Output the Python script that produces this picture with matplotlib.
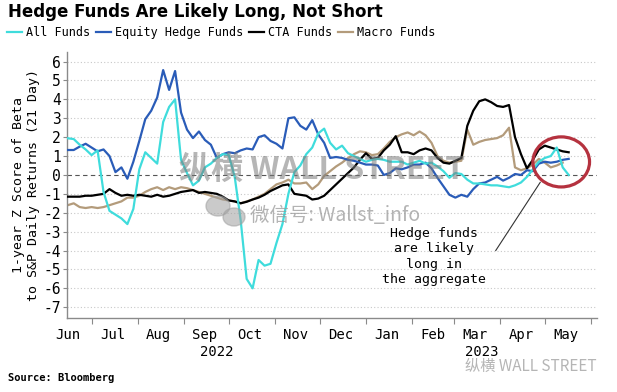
import numpy as np
import pandas as pd
import matplotlib
matplotlib.use("Agg")
import matplotlib.pyplot as plt
import matplotlib.dates as mdates
from matplotlib.patches import Ellipse
from matplotlib.ticker import FixedLocator, FixedFormatter, NullFormatter

# values, one every 4 days
dates = pd.date_range("2022-06-15", periods=85, freq="4D")

all_funds = [1.94, 1.9, 1.6, 1.35, 1.05, 1.3, -0.9, -1.9, -2.1, -2.3,
             -2.6, -1.8, 0.3, 1.2, 0.9, 0.6, 2.8, 3.6, 4.0, 0.8,
             0.1, -0.55, -0.3, 0.4, 0.6, 0.9, 1.1, 1.05, -0.1, -2.4,
             -5.5, -6.0, -4.5, -4.8, -4.7, -3.6, -2.6, -1.0, 0.15, 0.5,
             1.1, 1.45, 2.2, 2.45, 1.7, 1.35, 1.55, 1.15, 1.0, 0.85,
             0.7, 0.8, 0.85, 0.8, 0.7, 0.7, 0.7, 0.55, 0.65, 0.75,
             0.6, 0.65, 0.45, 0.2, -0.15, 0.1, 0.05, -0.25, -0.45, -0.45,
             -0.5, -0.55, -0.55, -0.6, -0.65, -0.55, -0.4, -0.1, 0.3, 0.7,
             0.9, 1.0, 1.45, 0.4, 0.0]

equity_hf = [1.32, 1.32, 1.5, 1.65, 1.45, 1.25, 1.35, 1.0, 0.15, 0.4,
             -0.2, 0.7, 1.8, 2.95, 3.4, 4.1, 5.55, 4.5, 5.5, 3.3,
             2.4, 1.95, 2.3, 1.85, 1.6, 0.9, 1.1, 1.2, 1.15, 1.3,
             1.4, 1.35, 2.0, 2.1, 1.8, 1.65, 1.4, 3.0, 3.05, 2.6,
             2.4, 2.9, 2.15, 1.7, 0.9, 0.95, 0.9, 0.8, 0.75, 0.65,
             0.55, 0.55, 0.5, 0.0, 0.1, 0.35, 0.3, 0.4, 0.55, 0.55,
             0.65, 0.35, -0.15, -0.6, -1.05, -1.2, -1.05, -1.15, -0.75, -0.45,
             -0.4, -0.25, -0.1, -0.3, -0.15, 0.05, 0.0, 0.25, 0.2, 0.6,
             0.7, 0.65, 0.7, 0.8, 0.85]

cta_funds = [-1.15, -1.15, -1.15, -1.1, -1.1, -1.05, -1.0, -0.75, -0.95, -1.1,
             -1.05, -1.1, -1.05, -1.1, -1.15, -1.05, -1.15, -1.1, -1.0, -0.9,
             -0.85, -0.8, -0.95, -0.9, -0.95, -1.0, -1.15, -1.35, -1.4, -1.5,
             -1.42, -1.3, -1.2, -1.05, -0.85, -0.7, -0.55, -0.5, -1.0, -1.05,
             -1.1, -1.3, -1.25, -1.1, -0.8, -0.5, -0.2, 0.1, 0.4, 0.8,
             1.15, 0.85, 0.9, 1.3, 1.6, 2.05, 1.2, 1.2, 1.1, 1.3,
             1.4, 1.3, 0.9, 0.65, 0.6, 0.75, 0.9, 2.6, 3.4, 3.9,
             4.0, 3.85, 3.65, 3.6, 3.7, 2.0, 1.1, 0.35, 0.8, 1.35,
             1.55, 1.45, 1.35, 1.25, 1.2]

macro_funds = [-1.6, -1.5, -1.7, -1.75, -1.7, -1.75, -1.7, -1.6, -1.5, -1.4,
               -1.2, -1.2, -1.1, -0.9, -0.75, -0.65, -0.8, -0.65, -0.75, -0.65,
               -0.7, -0.8, -0.9, -1.0, -1.1, -1.2, -1.3, -1.35, -1.4, -1.5,
               -1.4, -1.3, -1.15, -1.0, -0.75, -0.5, -0.4, -0.25, -0.45, -0.45,
               -0.4, -0.75, -0.5, -0.05, 0.2, 0.45, 0.65, 0.9, 1.1, 1.25,
               1.2, 1.05, 1.1, 1.4, 1.75, 2.0, 2.15, 2.25, 2.1, 2.3,
               2.1, 1.7, 1.0, 0.75, 0.65, 0.7, 0.75, 2.4, 1.6, 1.75,
               1.85, 1.9, 1.95, 2.1, 2.5, 0.4, 0.25, 0.35, 0.55, 0.85,
               0.65, 0.4, 0.5, 0.65, np.nan]

series_names = ["All Funds", "Equity Hedge Funds", "CTA Funds", "Macro Funds"]
series_colors = ["#3fdcdc", "#2a5cb8", "#000000", "#b39b7b"]
series_z = [5, 4, 3, 2]

month_labels = ["Jun", "Jul", "Aug", "Sep", "Oct", "Nov", "Dec",
                "Jan", "Feb", "Mar", "Apr", "May"]
year_labels = ["2022", "2023"]
y_ticks = list(range(-7, 7))

mono = "DejaVu Sans Mono"
cjk = ["Noto Sans CJK SC", "DejaVu Sans"]

fig = plt.figure(figsize=(6.17, 3.92), dpi=100)
ax = fig.add_axes([67 / 617, 1 - 318 / 392, 530 / 617, 265.5 / 392])

for vals, name, col, z in zip([all_funds, equity_hf, cta_funds, macro_funds],
                              series_names, series_colors, series_z):
    ax.plot(dates, vals, color=col, lw=1.6, label=name, zorder=z)

x0 = mdates.date2num(pd.Timestamp("2022-06-15")) - 0.5
x1 = mdates.date2num(pd.Timestamp("2023-06-05"))
ax.set_xlim(x0, x1)
ax.set_ylim(-7.57, 6.48)

# grid
for v in y_ticks:
    if v == 0:
        ax.axhline(0, color="#555555", lw=0.8, ls=(0, (4, 3)), zorder=1)
    else:
        ax.axhline(v, color="#c8c8c8", lw=0.8, ls=(0, (1, 2)), zorder=1)

for s in ["top", "right"]:
    ax.spines[s].set_visible(False)
for s in ["left", "bottom"]:
    ax.spines[s].set_color("#8a8a8a")
    ax.spines[s].set_linewidth(1)

ax.set_yticks(y_ticks)
ax.set_yticklabels([str(v) for v in y_ticks], fontfamily=mono, fontsize=10.5)
ax.tick_params(axis="y", length=3, color="#8a8a8a", pad=1.5)

# month boundaries as tick marks, labels at mid-month
ax.xaxis.set_major_locator(mdates.MonthLocator())
ax.xaxis.set_major_formatter(NullFormatter())
mid = pd.date_range("2022-06-01", periods=12, freq="MS") + pd.Timedelta(days=14)
ax.xaxis.set_minor_locator(FixedLocator(mdates.date2num(mid)))
ax.xaxis.set_minor_formatter(FixedFormatter(month_labels))
ax.tick_params(axis="x", which="major", length=4, color="#8a8a8a", direction="out")
ax.tick_params(axis="x", which="minor", length=0, pad=7, labelsize=10)
for lab in ax.xaxis.get_minorticklabels():
    lab.set_fontfamily(mono)

jan = mdates.date2num(pd.Timestamp("2023-01-01"))
for xc, yl in zip([(x0 + jan) / 2, (jan + x1) / 2], year_labels):
    ax.text(xc, -0.128, yl, transform=ax.get_xaxis_transform(), ha="center",
            va="center", fontfamily=mono, fontsize=10)

ax.set_ylabel("1-year Z Score of Beta\nto S&P Daily Returns (21 Day)",
              fontfamily=mono, fontsize=9.5, linespacing=1.2, labelpad=2)

# annotation
ax.text(pd.Timestamp("2023-02-16"), -2.75,
        "Hedge funds\nare likely\nlong in\nthe aggregate",
        ha="center", va="top", multialignment="center",
        fontfamily=mono, fontsize=9.5, linespacing=1.25, zorder=7)
ax.annotate("", xy=(pd.Timestamp("2023-04-29"), -0.26),
            xytext=(pd.Timestamp("2023-03-28"), -4.13),
            arrowprops=dict(arrowstyle="-", color="#333333", lw=0.8))
ax.add_patch(Ellipse((mdates.date2num(pd.Timestamp("2023-05-12")), 0.69),
                     38, 2.65, fill=False, edgecolor="#b5323f", lw=2.3, zorder=6))

# titles and legend
fig.text(8 / 617, 1 - 12 / 392, "Hedge Funds Are Likely Long, Not Short",
         fontsize=12, fontweight="bold", va="center", ha="left")
handles, labels = ax.get_legend_handles_labels()
fig.legend(handles, labels, loc="upper left",
           bbox_to_anchor=(7 / 617, 1 - 26 / 392), ncol=4, frameon=False,
           prop={"family": mono, "size": 8.5}, handlelength=1.3,
           handletextpad=0.3, columnspacing=0.5, borderpad=0, borderaxespad=0)
fig.text(8 / 617, 1 - 378 / 392, "Source: Bloomberg", fontfamily=mono,
         fontweight="bold", fontsize=7.5, va="center")

# watermark
fig.text(322 / 617, 1 - 170 / 392, "纵横 WALL STREET", family=cjk,
         fontsize=23, fontweight="bold", color="#7a7a7a", alpha=0.55,
         ha="center", va="center", zorder=8)
fig.patches.append(Ellipse((218 / 617, 1 - 206 / 392), 24 / 617, 20 / 392,
                           transform=fig.transFigure, color="#a0a0a0", alpha=0.55))
fig.patches.append(Ellipse((234 / 617, 1 - 217 / 392), 22 / 617, 18 / 392,
                           transform=fig.transFigure, color="#a0a0a0", alpha=0.55))
fig.text(250 / 617, 1 - 215 / 392, "微信号: Wallst_info", family=cjk,
         fontsize=14, color="#9a9a9a", alpha=0.75, ha="left", va="center")
fig.text(597 / 617, 1 - 366 / 392, "纵横 WALL STREET", family=cjk,
         fontsize=11, color="#b5b5b5", ha="right", va="center")

fig.savefig("out.png", dpi=100)
